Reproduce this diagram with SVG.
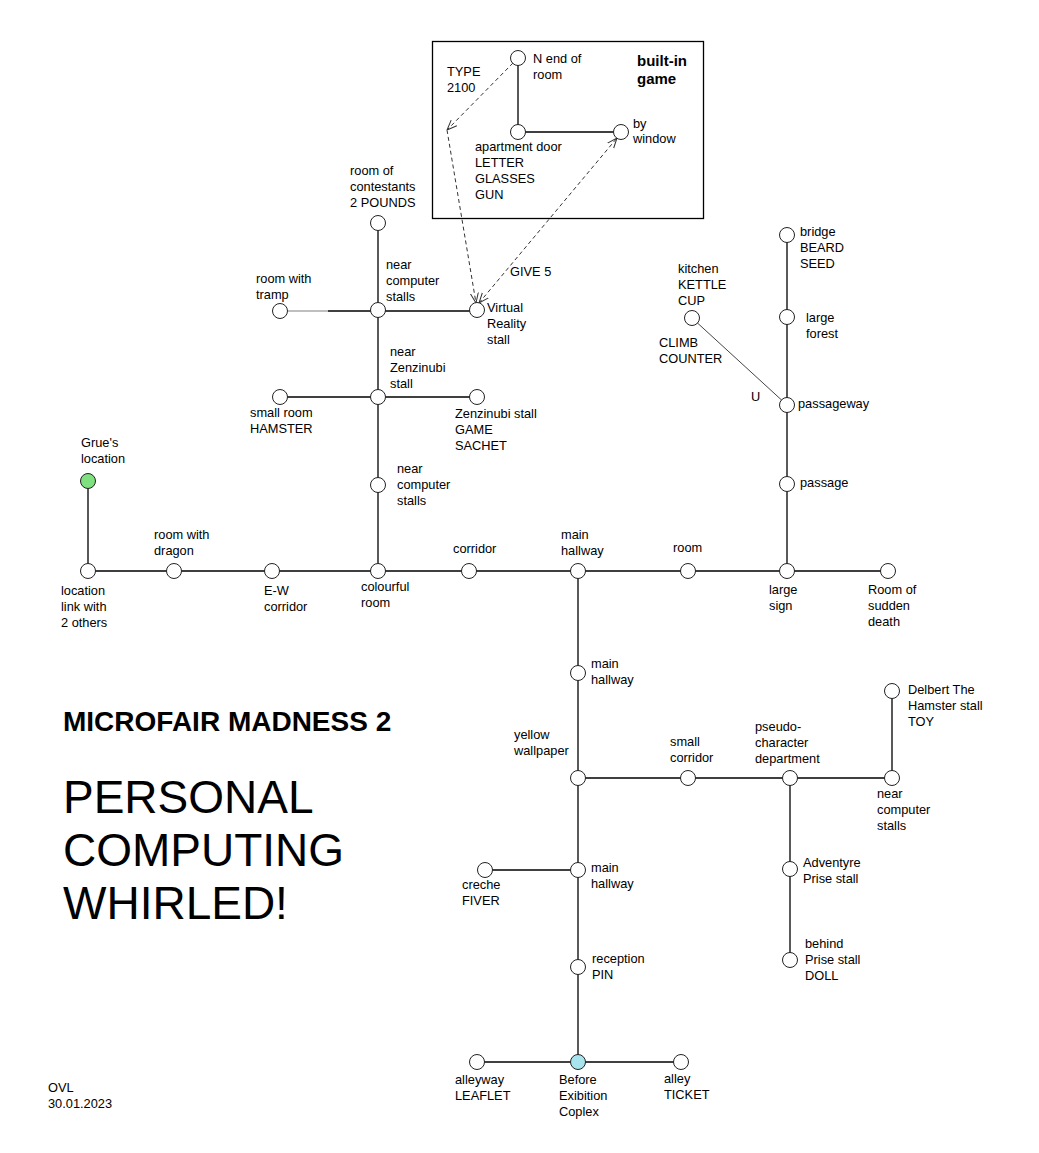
<svg xmlns="http://www.w3.org/2000/svg" width="1039" height="1153" viewBox="0 0 1039 1153">
<defs>
<style>
text{font-family:"Liberation Sans",Arial,sans-serif;font-size:12.8px;fill:#000}
.n{fill:#fff;stroke:#222;stroke-width:1}
.e{stroke:#000;stroke-width:1.3;fill:none}
.d{stroke:#333;stroke-width:1;fill:none;stroke-dasharray:4,3}
.b{font-weight:bold;font-size:15px}
</style>
<marker id="ah" viewBox="0 0 10 10" refX="10" refY="5" markerWidth="10" markerHeight="10" markerUnits="userSpaceOnUse" orient="auto-start-reverse">
<path d="M0,1 L10,5 L0,9" fill="none" stroke="#333" stroke-width="1"/>
</marker>
</defs>
<rect width="1039" height="1153" fill="#fff"/>
<rect x="432.5" y="41.5" width="271" height="177" fill="none" stroke="#000" stroke-width="1.3"/>
<g id="connectors">
<path class="e" d="M518,58V132H621"/>
<path class="e" d="M378,223V571"/>
<path d="M288,311H328" stroke="#aaa" stroke-width="1.6"/>
<path class="e" d="M328,311H477"/>
<path class="e" d="M280,397H477"/>
<path class="e" d="M88,481V571H888"/>
<path class="e" d="M787,235V571"/>
<path d="M692,318L787,405" stroke="#444" stroke-width="1"/>
<path class="e" d="M578,571V1062"/>
<path class="e" d="M578,778H892V691"/>
<path class="e" d="M790,778V960"/>
<path class="e" d="M485,870H578"/>
<path class="e" d="M477,1062H681"/>
<path class="d" d="M513,63L447,130" marker-end="url(#ah)"/>
<path class="d" d="M447,130L476,303" marker-end="url(#ah)"/>
<path class="d" d="M479,303L617,138" marker-start="url(#ah)" marker-end="url(#ah)"/>
</g>
<g id="n-nend"><circle class="n" cx="518" cy="58" r="7.5"/><text x="533" y="63">N end of</text><text x="533" y="79">room</text></g>
<g id="n-apt"><circle class="n" cx="518" cy="132" r="7.5"/><text x="475" y="151">apartment door</text><text x="475" y="167">LETTER</text><text x="475" y="183">GLASSES</text><text x="475" y="199">GUN</text></g>
<g id="n-window"><circle class="n" cx="621" cy="132" r="7.5"/><text x="633" y="128">by</text><text x="633" y="143">window</text></g>
<g id="l-type"><text x="447" y="76">TYPE</text><text x="447" y="92">2100</text></g>
<g id="l-builtin"><text class="b" x="637" y="66">built-in</text><text class="b" x="637" y="84">game</text></g>
<g id="n-contest"><circle class="n" cx="378" cy="223" r="7.5"/><text x="350" y="175">room of</text><text x="350" y="191">contestants</text><text x="350" y="207">2 POUNDS</text></g>
<g id="n-ncs1"><circle class="n" cx="378" cy="310" r="7.5"/><text x="386" y="269">near</text><text x="386" y="285">computer</text><text x="386" y="301">stalls</text></g>
<g id="n-tramp"><circle class="n" cx="280" cy="311" r="7.5"/><text x="256" y="283">room with</text><text x="256" y="299">tramp</text></g>
<g id="n-vr"><circle class="n" cx="477" cy="310" r="7.5"/><text x="487" y="312">Virtual</text><text x="487" y="328">Reality</text><text x="487" y="344">stall</text></g>
<g id="l-give"><text x="510" y="276">GIVE 5</text></g>
<g id="n-nzen"><circle class="n" cx="378" cy="397" r="7.5"/><text x="390" y="356">near</text><text x="390" y="372">Zenzinubi</text><text x="390" y="388">stall</text></g>
<g id="n-hamster"><circle class="n" cx="280" cy="397" r="7.5"/><text x="250" y="417">small room</text><text x="250" y="433">HAMSTER</text></g>
<g id="n-zen"><circle class="n" cx="477" cy="397" r="7.5"/><text x="455" y="418">Zenzinubi stall</text><text x="455" y="434">GAME</text><text x="455" y="450">SACHET</text></g>
<g id="n-ncs2"><circle class="n" cx="378" cy="485" r="7.5"/><text x="397" y="473">near</text><text x="397" y="489">computer</text><text x="397" y="505">stalls</text></g>
<g id="n-grue"><circle cx="88" cy="481" r="7.5" fill="#7ee07e" stroke="#222"/><text x="81" y="447">Grue's</text><text x="81" y="463">location</text></g>
<g id="n-link"><circle class="n" cx="88" cy="571" r="7.5"/><text x="61" y="595">location</text><text x="61" y="611">link with</text><text x="61" y="627">2 others</text></g>
<g id="n-dragon"><circle class="n" cx="174" cy="571" r="7.5"/><text x="154" y="539">room with</text><text x="154" y="555">dragon</text></g>
<g id="n-ew"><circle class="n" cx="272" cy="571" r="7.5"/><text x="264" y="595">E-W</text><text x="264" y="611">corridor</text></g>
<g id="n-colour"><circle class="n" cx="378" cy="571" r="7.5"/><text x="361" y="591">colourful</text><text x="361" y="607">room</text></g>
<g id="n-corr"><circle class="n" cx="469" cy="571" r="7.5"/><text x="453" y="553">corridor</text></g>
<g id="n-mh1"><circle class="n" cx="578" cy="571" r="7.5"/><text x="561" y="539">main</text><text x="561" y="555">hallway</text></g>
<g id="n-room"><circle class="n" cx="688" cy="571" r="7.5"/><text x="673" y="552">room</text></g>
<g id="n-sign"><circle class="n" cx="787" cy="571" r="7.5"/><text x="769" y="594">large</text><text x="769" y="610">sign</text></g>
<g id="n-death"><circle class="n" cx="888" cy="571" r="7.5"/><text x="868" y="594">Room of</text><text x="868" y="610">sudden</text><text x="868" y="626">death</text></g>
<g id="n-passage"><circle class="n" cx="787" cy="484" r="7.5"/><text x="800" y="487">passage</text></g>
<g id="n-passageway"><circle class="n" cx="787" cy="405" r="7.5"/><text x="798" y="408">passageway</text></g>
<g id="n-forest"><circle class="n" cx="787" cy="317" r="7.5"/><text x="806" y="322">large</text><text x="806" y="338">forest</text></g>
<g id="n-bridge"><circle class="n" cx="787" cy="235" r="7.5"/><text x="800" y="236">bridge</text><text x="800" y="252">BEARD</text><text x="800" y="268">SEED</text></g>
<g id="n-kitchen"><circle class="n" cx="692" cy="318" r="7.5"/><text x="678" y="273">kitchen</text><text x="678" y="289">KETTLE</text><text x="678" y="305">CUP</text></g>
<g id="l-climb"><text x="659" y="347">CLIMB</text><text x="659" y="363">COUNTER</text><text x="751" y="401">U</text></g>
<g id="n-mh2"><circle class="n" cx="578" cy="673" r="7.5"/><text x="591" y="668">main</text><text x="591" y="684">hallway</text></g>
<g id="n-yellow"><circle class="n" cx="578" cy="778" r="7.5"/><text x="514" y="739">yellow</text><text x="514" y="755">wallpaper</text></g>
<g id="n-smallcorr"><circle class="n" cx="688" cy="778" r="7.5"/><text x="670" y="746">small</text><text x="670" y="762">corridor</text></g>
<g id="n-pseudo"><circle class="n" cx="790" cy="778" r="7.5"/><text x="755" y="731">pseudo-</text><text x="755" y="747">character</text><text x="755" y="763">department</text></g>
<g id="n-ncs3"><circle class="n" cx="892" cy="778" r="7.5"/><text x="877" y="798">near</text><text x="877" y="814">computer</text><text x="877" y="830">stalls</text></g>
<g id="n-delbert"><circle class="n" cx="892" cy="691" r="7.5"/><text x="908" y="694">Delbert The</text><text x="908" y="710">Hamster stall</text><text x="908" y="726">TOY</text></g>
<g id="n-adv"><circle class="n" cx="790" cy="869" r="7.5"/><text x="803" y="867">Adventyre</text><text x="803" y="883">Prise stall</text></g>
<g id="n-behind"><circle class="n" cx="790" cy="960" r="7.5"/><text x="805" y="948">behind</text><text x="805" y="964">Prise stall</text><text x="805" y="980">DOLL</text></g>
<g id="n-mh3"><circle class="n" cx="578" cy="870" r="7.5"/><text x="591" y="872">main</text><text x="591" y="888">hallway</text></g>
<g id="n-creche"><circle class="n" cx="485" cy="870" r="7.5"/><text x="462" y="889">creche</text><text x="462" y="905">FIVER</text></g>
<g id="n-reception"><circle class="n" cx="578" cy="967" r="7.5"/><text x="592" y="963">reception</text><text x="592" y="979">PIN</text></g>
<g id="n-before"><circle cx="578" cy="1062" r="7.5" fill="#a8e4ee" stroke="#222"/><text x="559" y="1084">Before</text><text x="559" y="1100">Exibition</text><text x="559" y="1116">Coplex</text></g>
<g id="n-alleyway"><circle class="n" cx="477" cy="1062" r="7.5"/><text x="455" y="1084">alleyway</text><text x="455" y="1100">LEAFLET</text></g>
<g id="n-alley"><circle class="n" cx="681" cy="1062" r="7.5"/><text x="664" y="1083">alley</text><text x="664" y="1099">TICKET</text></g>
<g id="title">
<text x="63" y="731" style="font-size:28px;font-weight:bold">MICROFAIR MADNESS 2</text>
<text x="63" y="813" style="font-size:46px">PERSONAL</text>
<text x="63" y="866" style="font-size:46px">COMPUTING</text>
<text x="63" y="919" style="font-size:46px">WHIRLED!</text>
<text x="48" y="1092">OVL</text>
<text x="48" y="1108">30.01.2023</text>
</g>
</svg>
